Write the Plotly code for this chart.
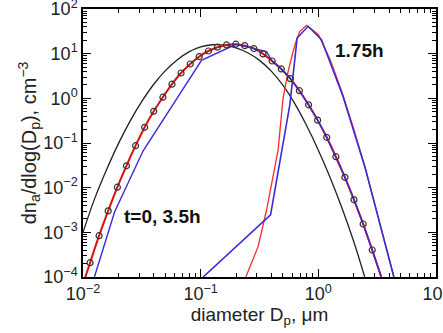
import numpy as np
import plotly.graph_objects as go

# ---- data (log10 of values) ----
# t=0 simulated points (circles)
t0_logd = [-1.940, -1.863, -1.786, -1.708, -1.631, -1.553, -1.476, -1.399, -1.321, -1.244,
           -1.167, -1.089, -1.012, -0.934, -0.857, -0.780, -0.702, -0.625, -0.548, -0.470,
           -0.393, -0.315, -0.238, -0.161, -0.083, -0.006, 0.071, 0.149, 0.226, 0.303,
           0.381, 0.458]
t0_logn = [-3.68, -3.075, -2.52, -1.99, -1.51, -1.06, -0.648, -0.290, 0.025, 0.316,
           0.567, 0.769, 0.935, 1.060, 1.145, 1.195, 1.212, 1.180, 1.115, 0.995,
           0.836, 0.658, 0.440, 0.171, -0.145, -0.488, -0.872, -1.307, -1.768, -2.272,
           -2.813, -3.395]
# red t=0 line (through points, extended to axis)
red0_logd = [-1.980] + t0_logd + [0.535]
red0_logn = [-4.0] + t0_logn + [-4.0]

# black reference lognormal
blk_logd = [-2.0, -1.9, -1.8, -1.7, -1.6, -1.5, -1.4, -1.3, -1.2, -1.1, -1.0, -0.9, -0.8,
            -0.7, -0.6, -0.5, -0.4, -0.3, -0.2, -0.1, 0.0, 0.1, 0.2, 0.3, 0.4]
blk_logn = [-3.0, -2.24, -1.60, -1.02, -0.51, -0.07, 0.31, 0.62, 0.86, 1.04, 1.15, 1.20, 1.19,
            1.13, 1.02, 0.85, 0.61, 0.29, -0.12, -0.61, -1.16, -1.77, -2.45, -3.2, -4.05]

# blue t=3.5h (coarse)
blu35_logd = [-1.903, -1.731, -1.490, -0.993, -0.70, -0.44, -0.393, -0.315, -0.238, -0.161,
              -0.083, -0.006, 0.071, 0.149, 0.226, 0.303, 0.381, 0.458, 0.535]
blu35_logn = [-4.0, -2.54, -1.18, 0.85, 1.21, 1.045, 0.836, 0.658, 0.440, 0.171,
              -0.145, -0.488, -0.872, -1.307, -1.768, -2.272, -2.813, -3.395, -4.0]

# red 1.75h
red175_logd = [-0.616, -0.583, -0.512, -0.44, -0.384, -0.342, -0.30, -0.257, -0.214, -0.185,
               -0.157, -0.10, 0.0, 0.1, 0.2, 0.3, 0.4, 0.5, 0.642]
red175_logn = [-4.0, -3.77, -3.32, -2.5, -1.75, -1.16, 0.0, 0.6, 1.05, 1.31,
               1.50, 1.635, 1.43, 0.87, 0.15, -0.68, -1.57, -2.55, -4.0]

# blue 1.75h
blu175_logd = [-0.979, -0.406, -0.242, -0.18, -0.087, 0.027, 0.21, 0.395, 0.642]
blu175_logn = [-4.0, -2.61, -0.14, 1.35, 1.613, 1.313, 0.04, -1.53, -4.0]

# tick labels
x_tick_exp = [-2, -1, 0, 1]
y_tick_exp = [-4, -3, -2, -1, 0, 1, 2]

p = lambda a: np.power(10.0, np.array(a, dtype=float))

def lab(e):
    s = str(e).replace("-", "−")
    return "10<sup>" + s + "</sup>"

def minor_vals(lo, hi):
    return [m * 10.0 ** k for k in range(lo, hi) for m in range(2, 10)]

FONT = "Liberation Sans, Arial, sans-serif"

fig = go.Figure()
fig.add_trace(go.Scatter(x=p(blk_logd), y=p(blk_logn), mode="lines",
                         line=dict(color="#222222", width=1.3, shape="spline"), showlegend=False))
fig.add_trace(go.Scatter(x=p(red175_logd), y=p(red175_logn), mode="lines",
                         line=dict(color="#ff2a2a", width=1.3), showlegend=False))
fig.add_trace(go.Scatter(x=p(blu175_logd), y=p(blu175_logn), mode="lines",
                         line=dict(color="#3a2ad8", width=1.6), showlegend=False))
fig.add_trace(go.Scatter(x=p(red0_logd), y=p(red0_logn), mode="lines",
                         line=dict(color="#d81010", width=2.0, shape="spline"), showlegend=False))
fig.add_trace(go.Scatter(x=p(blu35_logd), y=p(blu35_logn), mode="lines",
                         line=dict(color="#3a2ad8", width=1.4), showlegend=False))
fig.add_trace(go.Scatter(x=p(t0_logd), y=p(t0_logn), mode="markers",
                         marker=dict(symbol="circle-open", size=6, color="#333333",
                                     line=dict(width=1.2)), showlegend=False))

axis_common = dict(type="log", showgrid=False, zeroline=False, showline=True, mirror="ticks",
                   linecolor="black", linewidth=1.5, ticks="inside", ticklen=8, tickwidth=1,
                   tickcolor="black", ticklabeloverflow="allow", automargin=False,
                   tickfont=dict(family=FONT, size=18, color="#222222"))

fig.update_xaxes(range=[-2, 1], tickmode="array", tickvals=p(x_tick_exp),
                 ticktext=[lab(e) for e in x_tick_exp],
                 minor=dict(ticks="inside", ticklen=4, tickcolor="black", showgrid=False,
                            tickmode="array", tickvals=minor_vals(-2, 1)),
                 **axis_common,
                 title=dict(text="diameter D<sub>p</sub>, μm", standoff=2,
                            font=dict(family=FONT, size=19, color="#222222")))
fig.update_yaxes(range=[-4, 2], tickmode="array", tickvals=p(y_tick_exp),
                 ticktext=[lab(e) for e in y_tick_exp],
                 minor=dict(ticks="inside", ticklen=4, tickcolor="black", showgrid=False,
                            tickmode="array", tickvals=minor_vals(-4, 2)),
                 **axis_common,
                 title=dict(text="dn<sub>a</sub>/dlog(D<sub>p</sub>), cm<sup>−3</sup>", standoff=0,
                            font=dict(family=FONT, size=20, color="#222222")))

fig.add_annotation(x=np.log10(0.047), y=np.log10(0.0023), xref="x", yref="y",
                   text="<b>t=0, 3.5h</b>", showarrow=False,
                   font=dict(family=FONT, size=19, color="#111111"))
fig.add_annotation(x=np.log10(2.25), y=np.log10(12), xref="x", yref="y",
                   text="<b>1.75h</b>", showarrow=False,
                   font=dict(family=FONT, size=19, color="#111111"))

fig.update_layout(width=443, height=333, margin=dict(l=83, r=7, t=9, b=56),
                  paper_bgcolor="white", plot_bgcolor="white")
fig.write_html("out.html")
